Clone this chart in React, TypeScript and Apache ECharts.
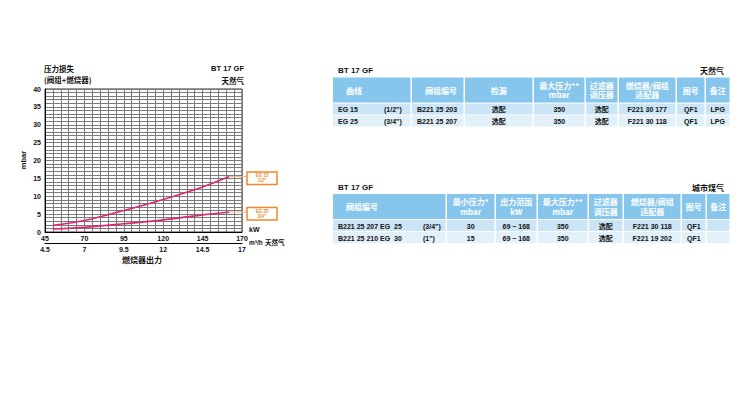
import React, { useEffect, useRef } from 'react';
import * as echarts from 'echarts';

// ---------- chart data ----------
const kwTicks = [45, 70, 95, 120, 145, 170];
const m3Ticks = [4.5, 7, 9.5, 12, 14.5, 17];
const curvePower = [50, 70, 95, 120, 145, 162];
const eg15Loss = [1.85, 3.2, 6.0, 9.1, 12.6, 15.5];
const eg25Loss = [0.83, 1.3, 2.3, 3.4, 4.8, 5.6];
const curveNames = ['EG 15', 'EG 25'];
const curveSizes = ['1/2"', '3/4"'];

// ---------- table data: natural gas ----------
const gasHeaders = ['曲线', '阀组编号', '检漏', '最大压力**\nmbar', '过滤器\n调压器', '燃烧器/阀组\n适配器', '图号', '备注'];
const gasCurves = ['EG 15', 'EG 25'];
const gasSizes = ['(1/2")', '(3/4")'];
const gasValveCodes = ['B221 25 203', 'B221 25 207'];
const gasLeakTest = ['选配', '选配'];
const gasMaxPressure = ['350', '350'];
const gasFilter = ['选配', '选配'];
const gasAdapter = ['F221 30 177', 'F221 30 118'];
const gasDrawing = ['QF1', 'QF1'];
const gasNotes = ['LPG', 'LPG'];

// ---------- table data: town gas ----------
const townHeaders = ['阀组编号', '最小压力*\nmbar', '出力范围\nkW', '最大压力**\nmbar', '过滤器\n调压器', '燃烧器/阀组\n适配器', '图号', '备注'];
const townValveCodes = ['B221 25 207 EG  25', 'B221 25 210 EG  30'];
const townSizes = ['(3/4")', '(1")'];
const townMinPressure = ['30', '15'];
const townPowerRange = ['69 ~ 168', '69 ~ 168'];
const townMaxPressure = ['350', '350'];
const townFilter = ['选配', '选配'];
const townAdapter = ['F221 30 118', 'F221 19 202'];
const townDrawing = ['QF1', 'QF1'];
const townNotes = ['', ''];

const F = '"Liberation Sans", "Noto Sans CJK SC", sans-serif';
const CJK = '"Noto Sans CJK SC", "Liberation Sans", sans-serif';

function T(x: number, y: number, text: string, o: any = {}) {
  return {
    type: 'text',
    x,
    y,
    silent: true,
    rotation: o.rotation || 0,
    style: {
      text,
      fill: o.fill || '#111',
      font: o.font || `bold 7px ${F}`,
      textAlign: o.align || 'left',
      textVerticalAlign: o.valign || 'middle',
      lineHeight: o.lineHeight || 8,
    },
  };
}

const HEADER = '#86c6ec';
const ROW_COLORS = ['#cbe4f6', '#e2f0fa'];

function buildTable(
  cols: number[],
  top: number,
  headerH: number,
  rowH: number,
  headers: string[],
  headerAlign: ('left' | 'center')[],
  rows: (string | [string, string])[][],
  splitX: number,
) {
  const els: any[] = [];
  for (let c = 0; c < cols.length - 1; c++) {
    const x0 = cols[c];
    const w = cols[c + 1] - cols[c] - 1.5;
    els.push({ type: 'rect', silent: true, shape: { x: x0, y: top, width: w, height: headerH }, style: { fill: HEADER } });
    const hx = headerAlign[c] === 'left' ? x0 + 13 : x0 + w / 2;
    els.push(T(hx, top + headerH / 2, headers[c], { fill: '#fff', font: `bold 8px ${CJK}`, align: headerAlign[c], lineHeight: 9.5 }));
    rows.forEach((row, r) => {
      const y0 = top + headerH + 1 + r * (rowH + 1);
      els.push({ type: 'rect', silent: true, shape: { x: x0, y: y0, width: w, height: rowH }, style: { fill: ROW_COLORS[r] } });
      const cell = row[c];
      const cy = y0 + rowH / 2 + 0.5;
      if (Array.isArray(cell)) {
        els.push(T(x0 + 5, cy, cell[0]));
        els.push(T(splitX, cy, cell[1]));
      } else if (c === 1 && headerAlign[1] === 'left') {
        els.push(T(x0 + 5, cy, cell));
      } else {
        els.push(T(x0 + w / 2, cy, cell, { align: 'center' }));
      }
    });
  }
  return els;
}

function isTick(v: number, start: number, step: number) {
  const k = (v - start) / step;
  return Math.abs(k - Math.round(k)) < 1e-6;
}

export default function App() {
  const ref = useRef<HTMLDivElement>(null);
  useEffect(() => {
    document.body.style.margin = '0';
    const chart = echarts.init(ref.current!, null, { renderer: 'svg', width: 750, height: 399 });
    const axisText = { fontSize: 7, color: '#111', fontFamily: F, fontWeight: 'bold' as const };
    chart.setOption({
      animation: false,
      backgroundColor: '#fff',
      grid: { left: 45, top: 89, width: 197, height: 143, show: true, borderColor: '#333', borderWidth: 1 },
      xAxis: [
        {
          type: 'value',
          min: kwTicks[0],
          max: kwTicks[kwTicks.length - 1],
          interval: 5,
          axisLine: { show: true, lineStyle: { color: '#000', width: 1 } },
          axisTick: { show: false },
          axisLabel: { ...axisText, margin: 3, showMinLabel: true, showMaxLabel: true, formatter: (v: number) => (kwTicks.includes(v) ? String(v) : '') },
          splitLine: { show: true, lineStyle: { color: '#7a7a7a', width: 1 } },
        },
        {
          type: 'value',
          min: m3Ticks[0],
          max: m3Ticks[m3Ticks.length - 1],
          interval: 0.5,
          position: 'bottom',
          offset: 11,
          axisLine: { show: true, lineStyle: { color: '#000', width: 1.2 } },
          axisTick: { show: false },
          axisLabel: { ...axisText, margin: 3, showMinLabel: true, showMaxLabel: true, formatter: (v: number) => (isTick(v, 4.5, 2.5) ? String(v) : '') },
          splitLine: { show: false },
        },
      ],
      yAxis: {
        type: 'value',
        min: 0,
        max: 40,
        interval: 1,
        axisLine: { show: true, lineStyle: { color: '#000', width: 1 } },
        axisTick: { show: false },
        axisLabel: { ...axisText, margin: 4, formatter: (v: number) => (v % 5 === 0 ? String(v) : '') },
        splitLine: { show: true, lineStyle: { color: '#7a7a7a', width: 1 } },
      },
      series: [
        {
          name: curveNames[0],
          type: 'line',
          smooth: 0.3,
          symbol: 'none',
          lineStyle: { color: '#dc2a72', width: 1.6 },
          data: curvePower.map((p, i) => [p, eg15Loss[i]]),
        },
        {
          name: curveNames[1],
          type: 'line',
          smooth: 0.3,
          symbol: 'none',
          lineStyle: { color: '#dc2a72', width: 1.6 },
          data: curvePower.map((p, i) => [p, eg25Loss[i]]),
        },
      ],
    });

    const last = curvePower.length - 1;
    const ends = [eg15Loss[last], eg25Loss[last]].map((v) =>
      chart.convertToPixel({ xAxisIndex: 0, yAxisIndex: 0 }, [curvePower[last], v]) as number[],
    );
    const annots: any[] = [];
    ends.forEach((pt, i) => {
      const bx = 247;
      annots.push({ type: 'line', silent: true, shape: { x1: pt[0] + 1, y1: pt[1], x2: bx, y2: pt[1] }, style: { stroke: '#f6b57c', lineWidth: 1 } });
      annots.push({ type: 'rect', silent: true, shape: { x: bx, y: pt[1] - 4.5, width: 30, height: 12.5 }, style: { fill: '#fff', stroke: '#ef8628', lineWidth: 1.5 } });
      annots.push(T(bx + 15, pt[1] + 1.7, `${curveNames[i]}\n${curveSizes[i]}`, { fill: '#ef8628', font: `bold 4.5px ${F}`, align: 'center', lineHeight: 4.8 }));
    });

    const gasRows = gasCurves.map((c, i) => [
      [c, gasSizes[i]] as [string, string],
      gasValveCodes[i], gasLeakTest[i], gasMaxPressure[i], gasFilter[i], gasAdapter[i], gasDrawing[i], gasNotes[i],
    ]);
    const townRows = townValveCodes.map((c, i) => [
      [c, townSizes[i]] as [string, string],
      townMinPressure[i], townPowerRange[i], townMaxPressure[i], townFilter[i], townAdapter[i], townDrawing[i], townNotes[i],
    ]);

    const gasCols = [333, 412, 465, 534, 586, 619, 677, 706, 731];
    const townCols = [333, 447, 496, 538, 589, 624, 682, 707, 731];

    const graphic: any[] = [
      // chart titles
      T(44, 68, '压力损失', { font: `bold 7.5px ${CJK}` }),
      T(44, 79, '(阀组+燃烧器)', { font: `bold 7.5px ${CJK}` }),
      T(244, 68, 'BT 17 GF', { font: `bold 7.5px ${F}`, align: 'right' }),
      T(244, 80, '天然气', { font: `bold 7.5px ${CJK}`, align: 'right' }),
      T(23, 160, 'mbar', { font: `bold 7.5px ${F}`, align: 'center', rotation: Math.PI / 2 }),
      T(249, 229, 'kW', { font: `bold 7px ${F}` }),
      T(249, 242, 'm³/h', { font: `bold 6.5px ${F}` }),
      T(265, 242, '天然气', { font: `bold 6.5px ${CJK}` }),
      T(142, 259, '燃烧器出力', { font: `bold 8px ${CJK}`, align: 'center' }),
      ...annots,
      // table 1
      T(338, 70, 'BT 17 GF', { font: `bold 8px ${F}` }),
      T(724, 70, '天然气', { font: `bold 8px ${CJK}`, align: 'right' }),
      ...buildTable(gasCols, 77.5, 25, 11, gasHeaders, ['left', 'left', 'center', 'center', 'center', 'center', 'center', 'center'], gasRows, 384),
      // table 2
      T(338, 187, 'BT 17 GF', { font: `bold 8px ${F}` }),
      T(724, 187, '城市煤气', { font: `bold 8px ${CJK}`, align: 'right' }),
      ...buildTable(townCols, 194, 25, 11, townHeaders, ['left', 'center', 'center', 'center', 'center', 'center', 'center', 'center'], townRows, 423),
    ];
    chart.setOption({ graphic });
    return () => chart.dispose();
  }, []);
  return <div ref={ref} style={{ position: 'fixed', left: 0, top: 0, width: 750, height: 399, background: '#fff' }} />;
}
